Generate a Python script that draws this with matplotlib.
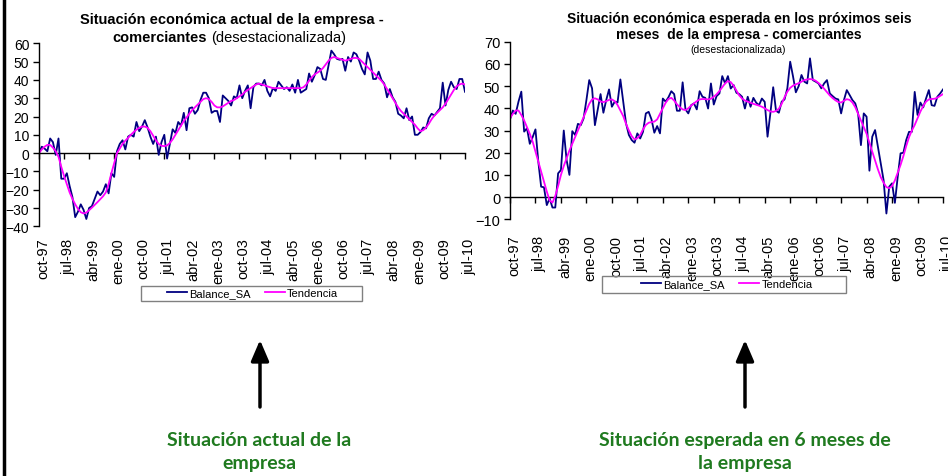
import matplotlib.pyplot as plt
from matplotlib.patches import Rectangle, FancyArrowPatch
from matplotlib.lines import Line2D
from matplotlib.transforms import ScaledTranslation

plt.rcParams['font.family'] = ['Liberation Sans', 'DejaVu Sans']

# etiquetas del eje x (una cada 9 meses, oct-97 .. jul-10)
meses = ['oct-97', 'jul-98', 'abr-99', 'ene-00', 'oct-00', 'jul-01', 'abr-02', 'ene-03',
         'oct-03', 'jul-04', 'abr-05', 'ene-06', 'oct-06', 'jul-07', 'abr-08', 'ene-09',
         'oct-09', 'jul-10']

# situación actual - balance desestacionalizado (mensual, oct-97 .. jul-10)
bal_act = [0, 3.5, 2.5, 1, 8, 6, -1, 8, -14, -14,
           -11, -18, -24, -35, -32, -28, -31, -36, -30, -29,
           -25, -21, -23, -21, -17, -22, -11, -13, 1, 5,
           7, 2, 9, 10, 9, 17, 12, 14.5, 18, 14,
           9, 5, 9, -1, 6, 10, -3, 5, 13, 11,
           17, 15, 22, 12.5, 24.5, 25, 21.5, 23.5, 29, 33,
           33, 30, 22, 23, 23, 17, 31.5, 30, 28.5, 26,
           31, 30, 37, 30, 34, 37, 24.5, 36, 38, 38,
           37, 40, 34, 31, 35.5, 34, 39, 37, 35, 36,
           34, 37.5, 33, 40, 33, 34, 35, 43.5, 39, 42.5,
           47, 46, 40.5, 40, 48, 56, 54, 51.5, 51, 51.5,
           45, 52.5, 50, 55, 54, 50.5, 46, 43, 55, 50.5,
           40.5, 40.5, 44.5, 40, 38, 30.5, 35, 30.5, 28, 21.5,
           20.5, 19, 24.5, 18, 20, 10, 10, 11.5, 14, 13.5,
           19, 21.5, 20.5, 22.5, 24.5, 38.5, 26, 34.5, 39, 36,
           35, 40.5, 40.5, 33.5]

# situación actual - tendencia
tr_act = [0, 2, 3.5, 4.5, 4.5, 3, 1, -2, -7.5, -12.5,
          -17, -21.5, -25, -28, -30.5, -32.3, -33, -32.5, -31.2, -29.8,
          -28.3, -26.8, -25.2, -23.6, -21.5, -17, -11, -5.5, 0, 2.5,
          5, 6.8, 8.3, 10, 11.5, 12.8, 13.8, 14.5, 14.5, 13.8,
          12, 9.5, 7, 5, 4, 3.8, 4.2, 5.5, 7.5, 10,
          12.5, 15, 17.5, 19.5, 21.5, 23.5, 25, 26.5, 28, 29.5,
          30, 29.5, 28, 26, 25, 25, 25.5, 26.5, 27.5, 28.5,
          29, 30, 31, 32, 33.5, 34.5, 35.5, 36.5, 37.5, 38,
          37.5, 37, 36.5, 36, 35.5, 35.5, 35.5, 35.5, 35.5, 35.5,
          35.5, 35.5, 35.5, 35.5, 35.5, 36, 37.5, 39.5, 41.5, 43,
          44, 45, 46.5, 48.5, 50.5, 52, 52.5, 52, 51.5, 51,
          50.5, 51, 51.5, 52, 52, 51.5, 50, 48.5, 47, 45.5,
          44, 42.5, 41, 39.5, 37.5, 35, 32.5, 30, 27.5, 25,
          23, 21.5, 20, 18.5, 17, 15.5, 13.5, 12, 12.5, 14,
          16, 18.5, 20.5, 22, 23.5, 25, 27, 29.5, 32, 34.5,
          36.5, 37.5, 38, 37.5]

# situación esperada a 6 meses - balance desestacionalizado
bal_esp = [35, 39, 37.5, 43, 47.5, 29.5, 31, 24, 27, 30.5,
           16, 4.7, 4.4, -3.6, -0.6, -4.7, -4.7, 10.7, 12.2, 30,
           16.7, 10, 29.7, 28, 33, 32.4, 35.4, 43.7, 52.7, 49,
           32.4, 39.5, 46.4, 38, 43.7, 48.5, 40.7, 43, 42.6, 53,
           43, 33.2, 28, 25.7, 24.5, 28.7, 26.4, 29.4, 37.7, 38.4,
           35, 29, 32, 28.7, 44.4, 43, 45, 47.7, 46.4, 38.9,
           38.9, 51.7, 39.5, 37.7, 41.4, 42.2, 39.5, 47.7, 45.2, 44.7,
           39.9, 51.2, 41.7, 45.5, 46.7, 54.5, 51.2, 54.5, 48.9, 50.5,
           47, 46.4, 45.2, 39.9, 45.2, 40.7, 44.7, 42.5, 41.4, 44.4,
           42.9, 27.2, 37.7, 49.5, 38.9, 38, 43, 44, 49, 61,
           54.4, 47.2, 50, 55, 52, 51.2, 62.5, 52.7, 52, 51.2,
           49, 51.2, 52.7, 46.7, 45.5, 44.4, 44, 37.7, 43.7, 48.2,
           46, 43.7, 42.2, 37.7, 23.4, 37.7, 36.2, 11.9, 27.2, 30.2,
           22.7, 15.2, 7.7, -7.4, 4.7, 6.2, -2.6, 9.2, 19.7, 20,
           25.7, 29.4, 29.4, 47.4, 37, 42.6, 40.4, 44.4, 48.2, 41.4,
           41.1, 45.2, 46.7, 48.5]

# situación esperada a 6 meses - tendencia
tr_esp = [35.5, 37.5, 39, 39, 37, 34.5, 31.5, 28.5, 25, 20.5,
          16, 11.5, 7, 2.5, -1.5, -2.5, 0.5, 5, 10, 14,
          17.5, 21, 24, 27, 30, 33, 36, 39, 42, 44,
          44.5, 44, 43, 42.8, 43.2, 43.8, 44, 43.2, 41.5, 39,
          36.5, 33, 30, 27.5, 26, 26.5, 28, 30.5, 32.5, 33.5,
          33.8, 34, 35, 37.5, 40, 42.5, 44.2, 44.7, 43.5, 41.8,
          40.5, 39.5, 39.2, 40, 41.2, 42.2, 43.2, 44, 44.2, 44.1,
          44, 44.3, 45.2, 46.3, 47.8, 49.5, 51.2, 52.3, 51.8, 50.2,
          48, 45.8, 44.4, 43.5, 43, 42.5, 42, 41.6, 41.2, 40.7,
          40, 39.2, 38.6, 38.4, 38.8, 39.8, 42, 45, 47.5, 49.2,
          50.2, 50.8, 51.3, 52, 52.7, 53, 53.2, 53, 52.4, 51.4,
          50.2, 48.8, 47.3, 45.8, 44.6, 43.6, 42.8, 42.6, 43.4, 44.1,
          43.8, 42.6, 40.5, 37.5, 34.5, 31.5, 28.5, 24.5, 20.5, 16.5,
          12.5, 9, 6.5, 4.5, 4, 5, 7.5, 11, 14.5, 18.5,
          23, 27, 30, 32.5, 35.5, 38.5, 41, 43, 44, 44.2,
          44.3, 44.8, 45.6, 46.4]

AZUL = '#000080'
MAGENTA = '#ff00ff'
VERDE = '#1f7a1f'

W, H = 948, 477
fig = plt.figure(figsize=(W / 100, H / 100), dpi=100)


def fx(x):
    return x / W


def fy(y):
    return 1 - y / H


def grafico(rect, bal, tr, ymin, ymax, fs_y, pad_x):
    ax = fig.add_axes(rect)
    x = list(range(len(bal)))
    ax.plot(x, bal, color=AZUL, lw=1.3)
    ax.plot(x, tr, color=MAGENTA, lw=1.3)
    ax.set_xlim(0, len(bal) - 1)
    ax.set_ylim(ymin, ymax)
    for s in ['top', 'right', 'bottom']:
        ax.spines[s].set_visible(False)
    ax.spines['left'].set_linewidth(1)
    ax.set_yticks(range(ymin, ymax + 1, 10))
    ax.tick_params(axis='y', length=4, width=1, direction='out', pad=3, labelsize=fs_y)
    # etiquetas abajo, eje dibujado en el cero
    ax.set_xticks(range(0, len(bal), 9), meses, rotation=90, fontsize=10.5)
    ax.tick_params(axis='x', length=0, pad=pad_x)
    for lbl in ax.get_xticklabels():
        lbl.set_transform(lbl.get_transform() + ScaledTranslation(0.04, 0, fig.dpi_scale_trans))
    cero = ax.secondary_xaxis(-ymin / (ymax - ymin))
    cero.set_xticks(range(0, len(bal), 9))
    cero.tick_params(length=4, width=1, direction='out', labelbottom=False)
    cero.spines['bottom'].set_linewidth(1)
    return ax


grafico([fx(39), fy(227.3), 426 / W, 183 / H], bal_act, tr_act, -40, 60, 10, 8)
grafico([fx(510), fy(220.3), 433 / W, 177.6 / H], bal_esp, tr_esp, -10, 70, 10.5, 11)

# títulos
fig.text(fx(232), fy(24), 'Situación económica actual de la empresa -', ha='center',
         va='baseline', fontsize=10.5, fontweight='bold')
fig.text(fx(207), fy(41.7), 'comerciantes', ha='right', va='baseline', fontsize=10.5,
         fontweight='bold')
fig.text(fx(211), fy(41.7), '(desestacionalizada)', ha='left', va='baseline', fontsize=10.5)
fig.text(fx(739), fy(22.7), 'Situación económica esperada en los próximos seis', ha='center',
         va='baseline', fontsize=10, fontweight='bold')
fig.text(fx(739), fy(39.3), 'meses  de la empresa - comerciantes', ha='center',
         va='baseline', fontsize=10, fontweight='bold')
fig.text(fx(738), fy(52.7), '(desestacionalizada)', ha='center', va='baseline', fontsize=7.5)

# leyendas
manejadores = [Line2D([], [], color=AZUL, lw=1.3), Line2D([], [], color=MAGENTA, lw=1.3)]
for (x0, y0, x1, y1, cx) in [(141, 287, 362, 302, 252.5), (602, 277, 846, 294, 727)]:
    fig.add_artist(Rectangle((fx(x0), fy(y1)), (x1 - x0) / W, (y1 - y0) / H,
                             transform=fig.transFigure, fill=False, ec='#808080', lw=1))
    fig.legend(manejadores, ['Balance_SA', 'Tendencia'], loc='center',
               bbox_to_anchor=(fx(cx), fy((y0 + y1) / 2 - 0.5)), ncol=2, frameon=False,
               fontsize=8, handlelength=1.8, handletextpad=0.2, columnspacing=1.3,
               borderpad=0, borderaxespad=0)

# flechas y textos inferiores
for cx in [260, 745]:
    fig.add_artist(FancyArrowPatch((fx(cx), fy(408)), (fx(cx), fy(341)),
                                   transform=fig.transFigure,
                                   arrowstyle='-|>,head_length=0.7,head_width=0.3',
                                   mutation_scale=18, lw=2.5, color='k',
                                   shrinkA=0, shrinkB=0))
verde_txt = dict(ha='center', va='baseline', fontweight='bold', color=VERDE,
                 family=['Lato', 'DejaVu Sans'])
fig.text(fx(259), fy(446), 'Situación actual de la', fontsize=14, **verde_txt)
fig.text(fx(259), fy(469.5), 'empresa', fontsize=14, **verde_txt)
fig.text(fx(745), fy(446), 'Situación esperada en 6 meses de', fontsize=14, **verde_txt)
fig.text(fx(745), fy(469.5), 'la empresa', fontsize=14, **verde_txt)

# borde izquierdo
fig.add_artist(Line2D([fx(4), fx(4)], [0, 1], transform=fig.transFigure, color='k', lw=2.5))

fig.savefig('out.png', dpi=100)
